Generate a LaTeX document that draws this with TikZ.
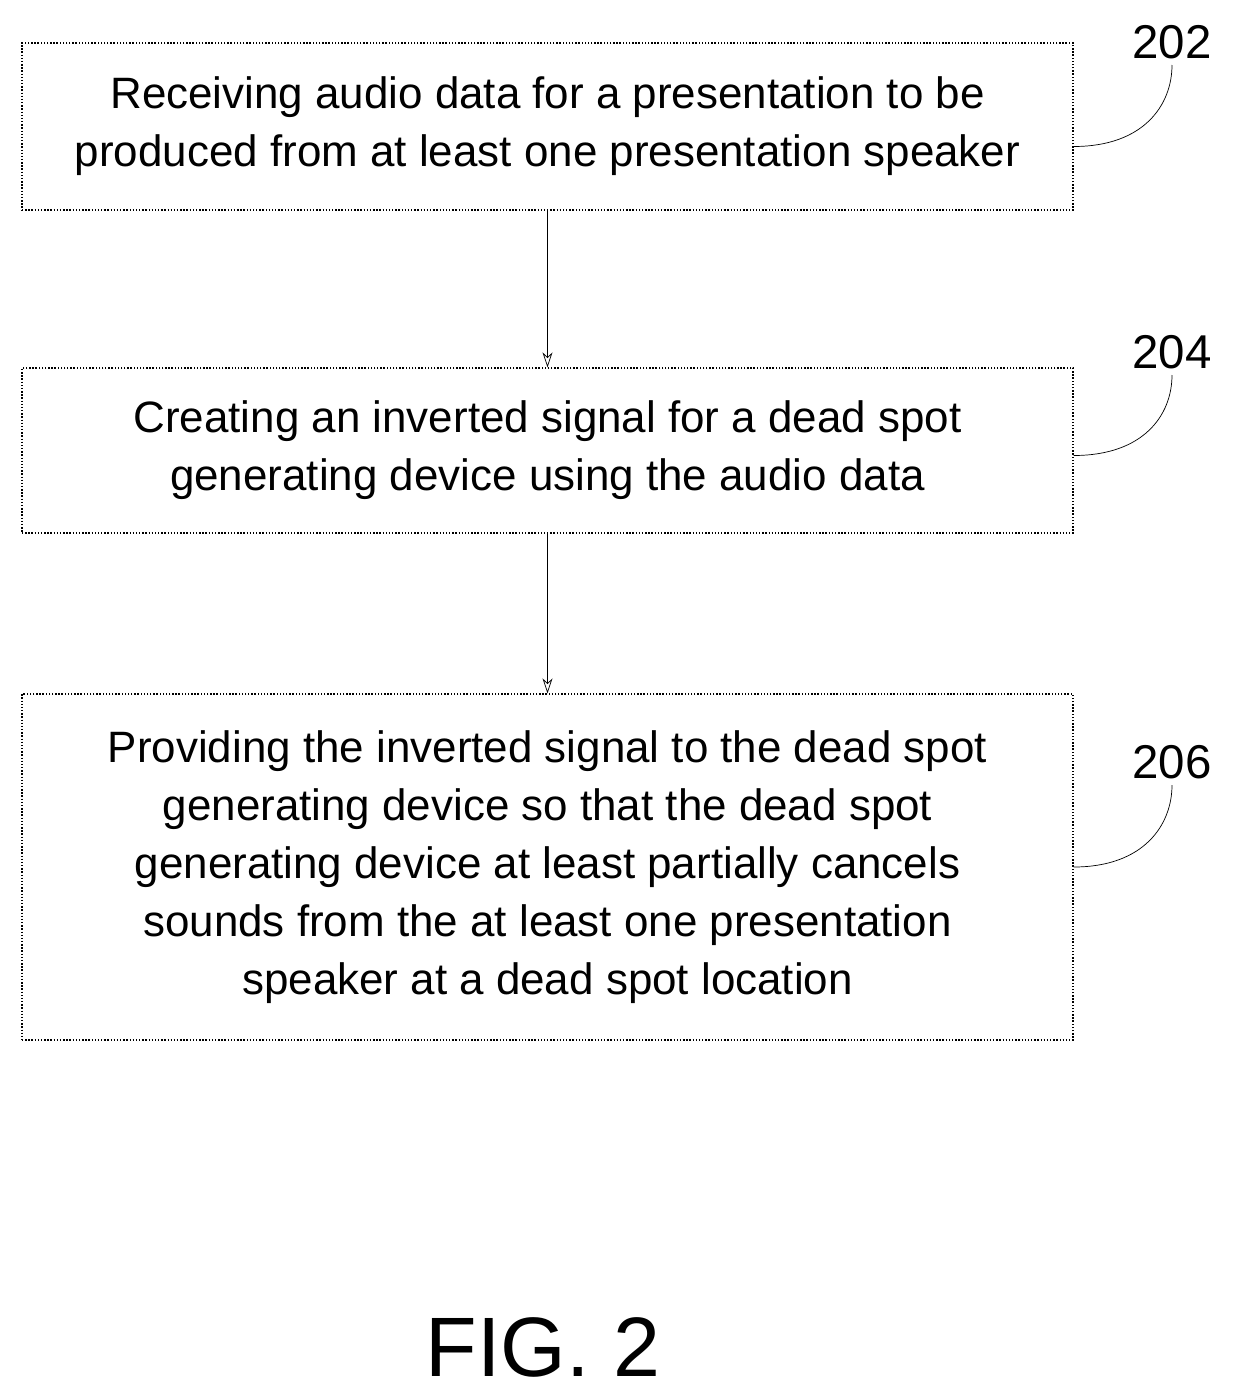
\documentclass[tikz,border=0pt]{standalone}
\usepackage{fontspec}
\setmainfont{Liberation Sans}
\usetikzlibrary{positioning,arrows.meta}
\begin{document}
\begin{tikzpicture}
\tikzset{stepbox/.style={draw, thick, densely dotted, rectangle, minimum width=21.02cm, align=center, font=\fontsize{25}{33}\selectfont},
         refnum/.style={font=\fontsize{27}{30}\selectfont}}
\useasboundingbox (0,0) rectangle (24.74,-27.86);
					\node[stepbox, minimum height=3.34cm] (s202) at (10.95,-2.53) {Receiving audio data for a presentation to be\\produced from at least one presentation speaker};
					\node[stepbox, minimum height=3.3cm] (s204) at (10.95,-9.01) {Creating an inverted signal for a dead spot\\generating device using the audio data};
					\node[stepbox, minimum height=6.92cm] (s206) at (10.95,-17.34) {Providing the inverted signal to the dead spot\\generating device so that the dead spot\\generating device at least partially cancels\\sounds from the at least one presentation\\speaker at a dead spot location};

					\node[refnum] (n202) at (23.44,-0.84) {202};
					\node[refnum] (n204) at (23.44,-7.04) {204};
					\node[refnum] (n206) at (23.44,-15.24) {206};

					\draw[-{Stealth[length=3mm,width=2mm,open]}, thin] (s202) to (s204);
					\draw[-{Stealth[length=3mm,width=2mm,open]}, thin] (s204) to (s206);

					\draw[thin] ([yshift=-4mm]s202.east) .. controls +(1.4,0) and +(0,-0.8) .. (n202.south);
					\draw[thin] ([yshift=-1mm]s204.east) .. controls +(1.4,0) and +(0,-0.8) .. (n204.south);
					\draw[thin] (s206.east) .. controls +(1.4,0) and +(0,-0.8) .. (n206.south);

					\node[font=\fontsize{48}{52}\selectfont] (fig) at (10.86,-26.95) {FIG. 2};
\end{tikzpicture}
\end{document}
